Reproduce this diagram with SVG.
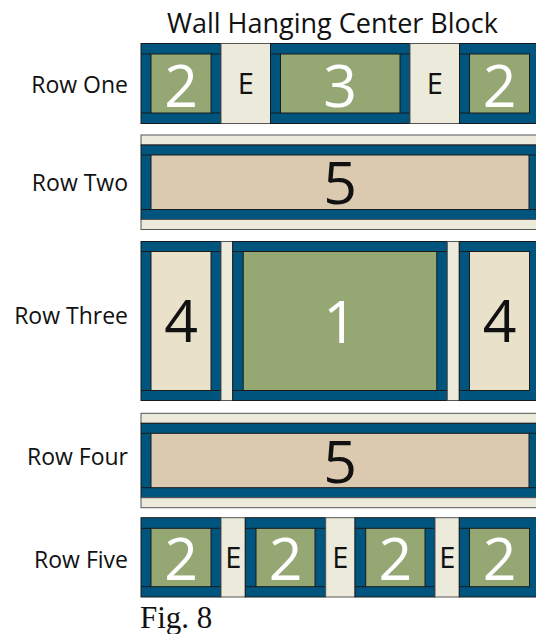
<svg xmlns="http://www.w3.org/2000/svg" width="536" height="634" viewBox="0 0 536 634">
<style>
.bg{fill:#ffffff}
.frame{fill:#00557f;stroke:#1a1a1a;stroke-width:1}
.green{fill:#95a874;stroke:#1a1a1a;stroke-width:1}
.tan{fill:#dbcab0;stroke:#1a1a1a;stroke-width:1}
.cream4{fill:#e9e1c9;stroke:#1a1a1a;stroke-width:1}
.strip{fill:#eceadb;stroke:#555555;stroke-width:1}
.band{fill:none;stroke:#1a1a1a;stroke-width:1}
.lbl{font-family:"Open Sans","Liberation Sans",sans-serif;font-size:23px;fill:#111;text-anchor:end}
.title{font-family:"Open Sans","Liberation Sans",sans-serif;font-size:27px;fill:#111;text-anchor:middle}
.big{font-family:"Open Sans","Liberation Sans",sans-serif;font-size:59px;text-anchor:middle}
.w{fill:#ffffff}
.k{fill:#111111}
.e{font-family:"Open Sans","Liberation Sans",sans-serif;font-size:29px;fill:#111;text-anchor:middle}
.fig{font-family:"Liberation Serif","Times New Roman",serif;font-size:31px;fill:#111}
</style>
<rect class="bg" x="0" y="0" width="536" height="634"/>
<text id="title" class="title" x="332.5" y="33">Wall Hanging Center Block</text>

<g id="row1">
  <text class="lbl" x="128" y="93">Row One</text>
  <rect class="frame" x="141" y="43.5" width="80" height="80"/>
  <rect class="green" x="151" y="54" width="60" height="59"/>
  <line class="band" x1="141" y1="54" x2="151" y2="54"/><line class="band" x1="211" y1="54" x2="221" y2="54"/>
  <line class="band" x1="141" y1="113" x2="151" y2="113"/><line class="band" x1="211" y1="113" x2="221" y2="113"/>
  <text class="big w" x="181" y="106.5">2</text>
  <rect class="strip" x="221" y="43.5" width="49.5" height="80"/>
  <text class="e" x="245.7" y="94.3">E</text>
  <rect class="frame" x="270.5" y="43.5" width="139.5" height="80"/>
  <rect class="green" x="280.5" y="54" width="119.5" height="59"/>
  <line class="band" x1="270.5" y1="54" x2="280.5" y2="54"/><line class="band" x1="400" y1="54" x2="410" y2="54"/>
  <line class="band" x1="270.5" y1="113" x2="280.5" y2="113"/><line class="band" x1="400" y1="113" x2="410" y2="113"/>
  <text class="big w" x="340" y="106.5">3</text>
  <rect class="strip" x="410" y="43.5" width="49.5" height="80"/>
  <text class="e" x="434.7" y="94.3">E</text>
  <rect class="frame" x="459.5" y="43.5" width="80" height="80"/>
  <rect class="green" x="469.5" y="54" width="60" height="59"/>
  <line class="band" x1="459.5" y1="54" x2="469.5" y2="54"/><line class="band" x1="459.5" y1="113" x2="469.5" y2="113"/>
  <text class="big w" x="499.5" y="106.5">2</text>
</g>

<g id="row2">
  <text class="lbl" x="128" y="191">Row Two</text>
  <rect class="strip" x="141" y="135" width="400" height="10"/>
  <rect class="frame" x="141" y="145" width="399" height="74.5"/>
  <rect class="tan" x="151" y="155" width="378" height="54.5"/>
  <line class="band" x1="141" y1="155" x2="151" y2="155"/><line class="band" x1="529" y1="155" x2="540" y2="155"/>
  <line class="band" x1="141" y1="209.5" x2="151" y2="209.5"/><line class="band" x1="529" y1="209.5" x2="540" y2="209.5"/>
  <rect class="strip" x="141" y="219.5" width="400" height="10"/>
  <text class="big k" x="340" y="204.3">5</text>
</g>

<g id="row3">
  <text class="lbl" x="128" y="324">Row Three</text>
  <rect class="frame" x="141" y="241.5" width="80" height="159"/>
  <rect class="cream4" x="151" y="251.5" width="60" height="139"/>
  <line class="band" x1="141" y1="251.5" x2="151" y2="251.5"/><line class="band" x1="211" y1="251.5" x2="221" y2="251.5"/>
  <line class="band" x1="141" y1="390.5" x2="151" y2="390.5"/><line class="band" x1="211" y1="390.5" x2="221" y2="390.5"/>
  <text class="big k" x="181" y="341.7">4</text>
  <rect class="strip" x="221" y="241.5" width="11.7" height="159"/>
  <rect class="frame" x="232.7" y="241.5" width="214.6" height="159"/>
  <rect class="green" x="243.2" y="251.5" width="193.6" height="139"/>
  <line class="band" x1="232.7" y1="251.5" x2="243.2" y2="251.5"/><line class="band" x1="436.8" y1="251.5" x2="447.3" y2="251.5"/>
  <line class="band" x1="232.7" y1="390.5" x2="243.2" y2="390.5"/><line class="band" x1="436.8" y1="390.5" x2="447.3" y2="390.5"/>
  <text class="big w" x="340" y="343.3">1</text>
  <rect class="strip" x="447.3" y="241.5" width="12" height="159"/>
  <rect class="frame" x="459.3" y="241.5" width="80" height="159"/>
  <rect class="cream4" x="469.5" y="251.5" width="60" height="139"/>
  <line class="band" x1="459.3" y1="251.5" x2="469.5" y2="251.5"/><line class="band" x1="459.3" y1="390.5" x2="469.5" y2="390.5"/>
  <text class="big k" x="499.5" y="341.7">4</text>
</g>

<g id="row4">
  <text class="lbl" x="128" y="465">Row Four</text>
  <rect class="strip" x="141" y="413.3" width="400" height="10"/>
  <rect class="frame" x="141" y="423.3" width="399" height="74.4"/>
  <rect class="tan" x="151" y="433.3" width="378" height="54.4"/>
  <line class="band" x1="141" y1="433.3" x2="151" y2="433.3"/><line class="band" x1="529" y1="433.3" x2="540" y2="433.3"/>
  <line class="band" x1="141" y1="487.7" x2="151" y2="487.7"/><line class="band" x1="529" y1="487.7" x2="540" y2="487.7"/>
  <rect class="strip" x="141" y="497.7" width="400" height="10"/>
  <text class="big k" x="340" y="482.5">5</text>
</g>

<g id="row5">
  <text class="lbl" x="128" y="568">Row Five</text>
  <rect class="frame" x="141" y="517.7" width="80" height="79.3"/>
  <rect class="green" x="151" y="528.3" width="60" height="58.4"/>
  <line class="band" x1="141" y1="528.3" x2="151" y2="528.3"/><line class="band" x1="211" y1="528.3" x2="221" y2="528.3"/>
  <line class="band" x1="141" y1="586.7" x2="151" y2="586.7"/><line class="band" x1="211" y1="586.7" x2="221" y2="586.7"/>
  <text class="big w" x="181" y="580">2</text>
  <rect class="strip" x="221" y="517.7" width="24.3" height="79.3"/>
  <text class="e" x="233.2" y="567.7">E</text>
  <rect class="frame" x="245.3" y="517.7" width="80.4" height="79.3"/>
  <rect class="green" x="256" y="528.3" width="59" height="58.4"/>
  <line class="band" x1="245.3" y1="528.3" x2="256" y2="528.3"/><line class="band" x1="315" y1="528.3" x2="325.7" y2="528.3"/>
  <line class="band" x1="245.3" y1="586.7" x2="256" y2="586.7"/><line class="band" x1="315" y1="586.7" x2="325.7" y2="586.7"/>
  <text class="big w" x="285.5" y="580">2</text>
  <rect class="strip" x="325.7" y="517.7" width="29.3" height="79.3"/>
  <text class="e" x="340.4" y="567.7">E</text>
  <rect class="frame" x="355" y="517.7" width="80" height="79.3"/>
  <rect class="green" x="365.7" y="528.3" width="59.3" height="58.4"/>
  <line class="band" x1="355" y1="528.3" x2="365.7" y2="528.3"/><line class="band" x1="425" y1="528.3" x2="435" y2="528.3"/>
  <line class="band" x1="355" y1="586.7" x2="365.7" y2="586.7"/><line class="band" x1="425" y1="586.7" x2="435" y2="586.7"/>
  <text class="big w" x="395.3" y="580">2</text>
  <rect class="strip" x="435" y="517.7" width="24.3" height="79.3"/>
  <text class="e" x="447.2" y="567.7">E</text>
  <rect class="frame" x="459.3" y="517.7" width="80" height="79.3"/>
  <rect class="green" x="469.5" y="528.3" width="60" height="58.4"/>
  <line class="band" x1="459.3" y1="528.3" x2="469.5" y2="528.3"/><line class="band" x1="459.3" y1="586.7" x2="469.5" y2="586.7"/>
  <text class="big w" x="499.5" y="580">2</text>
</g>

<text id="caption" class="fig" x="140" y="627.5">Fig. 8</text>
</svg>
